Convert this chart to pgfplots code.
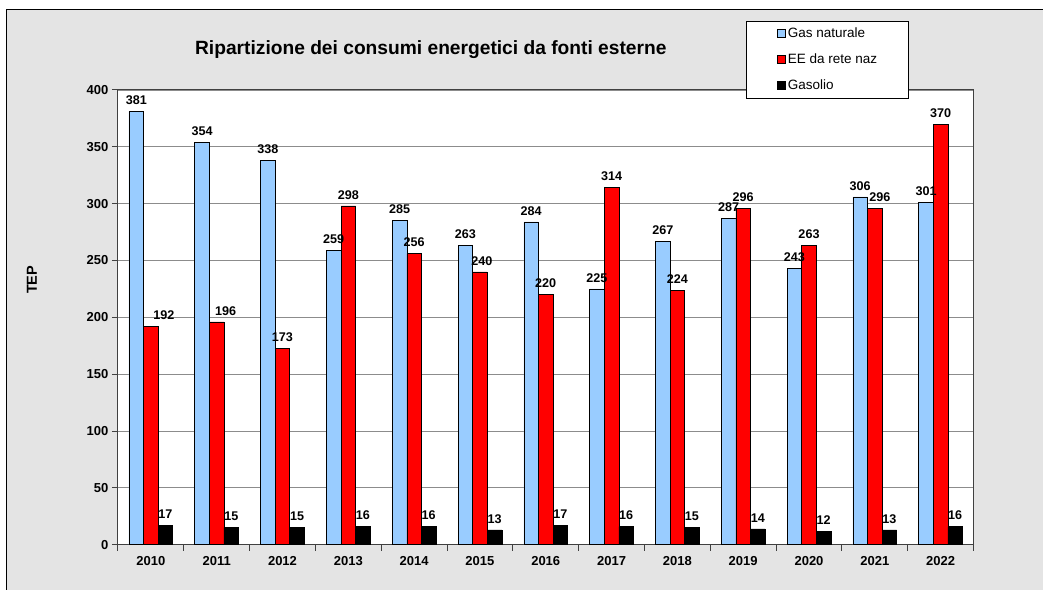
\documentclass[border=0pt]{standalone}
\usepackage{pgfplots}
\usepackage{pgfplotstable}
\pgfplotsset{compat=1.18}
\usepackage{fontspec}
\setmainfont{Liberation Sans}
\definecolor{bgc}{RGB}{228,228,228}
\definecolor{gasblue}{RGB}{153,204,255}
\definecolor{eered}{RGB}{255,0,0}
\definecolor{gridc}{RGB}{140,140,140}
\pgfplotstableread{
x gas ee gasolio dx
0 381 192 17 13
1 354 196 15 9
2 338 173 15 0
3 259 298 16 0
4 285 256 16 0
5 263 240 13 2
6 284 220 17 0
7 225 314 16 0
8 267 224 15 0
9 287 296 14 0
10 243 263 12 0
11 306 296 13 5
12 301 370 16 0
}\datatable
\begin{document}
\begin{tikzpicture}
\fill[white] (0,0) rectangle (1043bp,590bp);
\fill[bgc] (7bp,0) rectangle (1043bp,580bp);
\draw[line width=1bp] (7bp,0) -- (7bp,580bp) -- (1043bp,580bp);
\begin{axis}[
  at={(118bp,45bp)}, anchor=south west,
  scale only axis, width=856bp, height=455bp,
  axis background/.style={fill=white},
  axis line style={draw=black!75, line width=1bp},
  ybar=0pt, bar width=14.6bp,
  xmin=-0.5, xmax=12.5, ymin=0, ymax=400,
  ytick={0,50,...,400},
  xtick={0,...,12},
  xticklabels={2010,2011,2012,2013,2014,2015,2016,2017,2018,2019,2020,2021,2022},
  minor xtick={-0.5,0.5,...,12.5},
  major x tick style={draw=none},
  minor x tick style={draw=black!75, line width=1bp},
  ytick style={draw=black!75, line width=1bp},
  major tick length=6bp, minor tick length=6bp,
  tick align=outside,
  xtick pos=bottom, ytick pos=left,
  ymajorgrids, grid style={draw=gridc, line width=0.8bp},
  /pgf/number format/assume math mode=true,
  tick label style={font=\bfseries\fontsize{13bp}{15bp}\selectfont},
  xticklabel style={yshift=-2bp},
  nodes near coords,
  nodes near coords style={font=\bfseries\fontsize{12.6bp}{14bp}\selectfont, yshift=3bp},
  legend style={at={(0.734,1.152)}, anchor=north west, draw=black, line width=0.8bp, fill=white,
    font=\fontsize{13.5bp}{15bp}\selectfont, inner xsep=31bp, inner ysep=6bp, row sep=13bp,
    nodes={inner sep=0pt, text height=10bp, text depth=3bp},
    /tikz/every odd column/.append style={column sep=2bp}},
  legend cell align=left,
  legend image code/.code={\draw[#1, draw=black, line width=0.6bp] (0bp,-4bp) rectangle (8bp,4bp);},
]
\addplot[fill=gasblue, draw=black, line width=0.6bp] table[x=x,y=gas]{\datatable};
\addplot[fill=eered, draw=black, line width=0.6bp,
  visualization depends on={\thisrow{dx}\as\labeldx},
  every node near coord/.append style={xshift=\labeldx}] table[x=x,y=ee]{\datatable};
\addplot[fill=black, draw=black, line width=0.6bp] table[x=x,y=gasolio]{\datatable};
\legend{Gas naturale, EE da rete naz, Gasolio}
\end{axis}
\node[font=\bfseries\fontsize{19.2bp}{22bp}\selectfont] at (431bp,540bp) {Ripartizione dei consumi energetici da fonti esterne};
\node[rotate=90, font=\bfseries\fontsize{14.5bp}{16bp}\selectfont] at (32bp,310bp) {TEP};
\end{tikzpicture}
\end{document}
